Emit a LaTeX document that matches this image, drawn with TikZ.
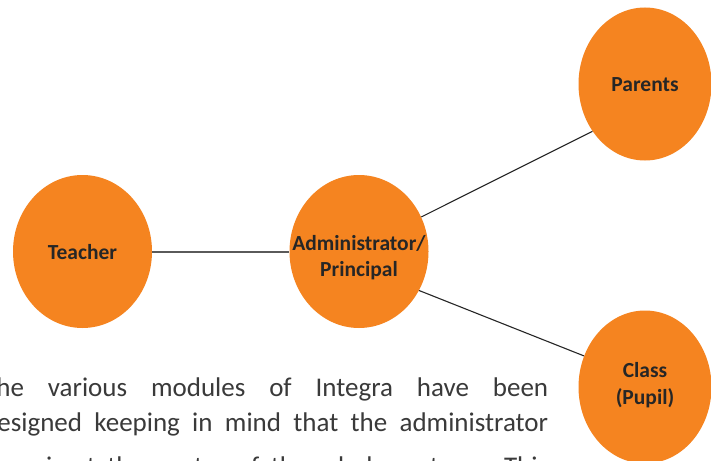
\documentclass[tikz,border=0pt]{standalone}
\usepackage{fontspec}
\setmainfont{Carlito}
\usetikzlibrary{shapes.geometric}
\definecolor{orng}{HTML}{F58420}
\definecolor{lbltext}{HTML}{262626}
\definecolor{bodytext}{HTML}{3A3A3A}
\definecolor{greyline}{HTML}{5A5A5A}
\tikzset{
  bubble/.style={ellipse, fill=orng, draw=none, inner sep=0pt, minimum width=139pt, minimum height=153pt},
  lbl/.style={text=lbltext, font=\fontsize{21.5pt}{26.5pt}\selectfont\bfseries, align=center, inner sep=0pt},
  bodyline/.style={text=bodytext, font=\fontsize{27pt}{33pt}\selectfont, anchor=base west, inner sep=0pt},
  thinlink/.style={draw=black!85, line width=1.1pt},
  thicklink/.style={draw=greyline, line width=2pt}
}
\begin{document}
\begin{tikzpicture}[x=1pt,y=-1pt]
\useasboundingbox (0,0) rectangle (711,460);
\clip (0,0) rectangle (711,460);
\fill[white] (0,0) rectangle (711,460);
% bubbles
\node[bubble] (teacher) at (82.5,251.5) {};
\node[bubble] (admin) at (359,251.5) {};
\node[bubble, minimum width=133pt] (parents) at (645,84) {};
\node[bubble, minimum width=133pt] (class) at (645,387) {};
% connectors
\draw[thicklink] (teacher.east) -- (admin.west);
\draw[thinlink] (admin.29) -- (parents.222);
\draw[thinlink] (admin.-33) -- (class.153);
% labels
\node[lbl] (tlabel) at ([yshift=-1pt]teacher.center) {Teacher};
\node[lbl] (alabel) at ([yshift=-6pt]admin.center) {Administrator/\\Principal};
\node[lbl] (plabel) at ([yshift=-1pt]parents.center) {Parents};
\node[lbl] (clabel) at ([yshift=2pt]class.center) {Class\\(Pupil)};
% body text
\node[bodyline] (line1) at (-17,396) {\makebox[565pt][s]{The various modules of Integra have been}};
\node[bodyline] (line2) at (-17,431) {\makebox[565pt][s]{designed keeping in mind that the administrator}};
\node[bodyline] (line3) at (46,475) {\makebox[502pt][s]{is at the center of the whole system. This}};
\end{tikzpicture}
\end{document}
